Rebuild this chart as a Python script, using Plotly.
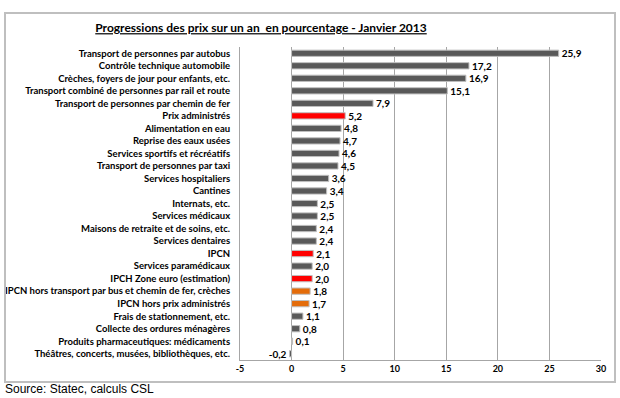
import plotly.graph_objects as go

categories = [
    "Transport de personnes par autobus",
    "Contrôle technique automobile",
    "Crèches, foyers de jour pour enfants, etc.",
    "Transport combiné de personnes par rail et route",
    "Transport de personnes par chemin de fer",
    "Prix administrés",
    "Alimentation en eau",
    "Reprise des eaux usées",
    "Services sportifs et récréatifs",
    "Transport de personnes par taxi",
    "Services hospitaliers",
    "Cantines",
    "Internats, etc.",
    "Services médicaux",
    "Maisons de retraite et de soins, etc.",
    "Services dentaires",
    "IPCN",
    "Services paramédicaux",
    "IPCH Zone euro (estimation)",
    "IPCN hors transport par bus et chemin de fer, crèches",
    "IPCN hors prix administrés",
    "Frais de stationnement, etc.",
    "Collecte des ordures ménagères",
    "Produits pharmaceutiques: médicaments",
    "Théâtres, concerts, musées, bibliothèques, etc.",
]
values = [25.9, 17.2, 16.9, 15.1, 7.9, 5.2, 4.8, 4.7, 4.6, 4.5, 3.6, 3.4, 2.5, 2.5,
          2.4, 2.4, 2.1, 2.0, 2.0, 1.8, 1.7, 1.1, 0.8, 0.1, -0.2]
groups = ["g", "g", "g", "g", "g", "r", "g", "g", "g", "g", "g", "g", "g", "g",
          "g", "g", "r", "g", "r", "o", "o", "g", "g", "g", "g"]
x_ticks = [-5, 0, 5, 10, 15, 20, 25, 30]

color_map = {"g": "#595959", "r": "#FF0000", "o": "#E46C0A"}
colors = [color_map[g] for g in groups]
labels = [f"{v:.1f}".replace(".", ",") for v in values]

fig = go.Figure(go.Bar(
    y=categories, x=values, orientation="h",
    marker=dict(color=colors, line=dict(color="#BFBFBF", width=1)),
    text=labels, textposition="outside", cliponaxis=False, constraintext="none",
    textfont=dict(family="Lato", size=10, color="black", weight="bold"),
    hoverinfo="skip",
))

PX_L, PX_R, PX_T, PX_B = 240, 601, 47, 360
W, H = 620, 398
pw, ph = PX_R - PX_L, PX_B - PX_T

def px_to_paper(x, y):
    return (x - PX_L) / pw, (PX_B - y) / ph

x0, y0 = px_to_paper(5, 382)
x1, y1 = px_to_paper(615, 13)

fig.update_layout(
    width=W, height=H,
    margin=dict(l=PX_L, r=W - PX_R, t=PX_T, b=H - PX_B, autoexpand=False),
    paper_bgcolor="white", plot_bgcolor="white",
    showlegend=False, bargap=0.5,
    title=dict(text="<b><u>Progressions des prix sur un an  en pourcentage - Janvier 2013</u></b>",
               x=261 / W, xanchor="center", xref="container", y=1 - 28 / H, yanchor="middle",
               font=dict(family="Lato", size=12, color="black")),
    xaxis=dict(range=[-5, 30], tickvals=x_ticks, ticktext=[str(t) for t in x_ticks],
               showgrid=True, gridcolor="#A6A6A6", gridwidth=1,
               zeroline=True, zerolinecolor="#A6A6A6", zerolinewidth=1,
               showline=True, linecolor="#A6A6A6", linewidth=1, mirror=False,
               ticks="", tickfont=dict(family="Lato", size=9, color="black", weight="bold")),
    yaxis=dict(autorange="reversed", showline=True, linecolor="#A6A6A6", linewidth=1,
               ticks="", ticklabelstandoff=7, showgrid=False,
               tickfont=dict(family="Lato", size=9.5, color="black", weight="bold")),
    shapes=[dict(type="rect", xref="paper", yref="paper", x0=x0, x1=x1, y0=y0, y1=y1,
                 line=dict(color="#BFBFBF", width=2), fillcolor="rgba(0,0,0,0)")],
    annotations=[dict(text="Source: Statec, calculs CSL", xref="paper", yref="paper",
                      x=px_to_paper(3, 0)[0], y=px_to_paper(0, 389)[1],
                      xanchor="left", yanchor="middle", showarrow=False,
                      font=dict(family="Liberation Sans", size=12, color="black"))],
)

fig.write_html("out.html", config={"displayModeBar": False},
               post_script="document.body.style.margin='0';")
